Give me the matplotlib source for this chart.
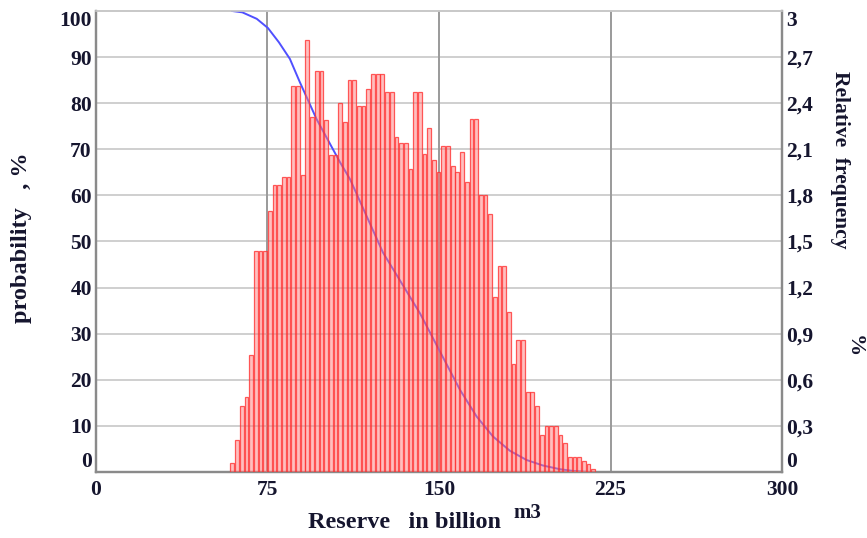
import matplotlib
matplotlib.use("Agg")
import matplotlib.pyplot as plt
import numpy as np

# ---------------- data ----------------
bin_start = 58.6          # left edge of first histogram class (billion m3)
bin_width = 2.05          # class width (billion m3)
rel_freq = [              # relative frequency, %
    0.06, 0.21, 0.43, 0.49, 0.76, 1.44, 1.44, 1.44, 1.70, 1.87,
    1.87, 1.92, 1.92, 2.51, 2.51, 1.93, 2.81, 2.31, 2.61, 2.61,
    2.29, 2.06, 2.06, 2.40, 2.28, 2.55, 2.55,
    2.38, 2.38, 2.49, 2.59, 2.59, 2.59, 2.47, 2.47, 2.18, 2.14,
    2.14, 1.97, 2.47, 2.47, 2.07, 2.24, 2.03, 1.95, 2.12, 2.12,
    1.99, 1.95, 2.08, 1.89, 2.30, 2.30,
    1.80, 1.80, 1.68, 1.14, 1.34, 1.34, 1.04, 0.70, 0.86, 0.86,
    0.52, 0.52, 0.43, 0.24, 0.30, 0.30, 0.30, 0.24, 0.19, 0.10,
    0.10, 0.10, 0.07, 0.05, 0.02,
]
prob_reserve = [59.5, 64.0, 70.3, 75.2, 80.0, 84.8, 89.2, 96.5, 106.7, 111.1,
                125.5, 141.7, 159.2, 166.5, 173.6, 181.0, 188.3, 195.5, 202.9,
                209.0, 215.5]
prob_values = [100, 99.7, 98.3, 96.3, 93.2, 89.6, 84.5, 76.5, 67.2, 63.5,
               47.6, 34.4, 17.8, 12.0, 7.7, 4.6, 2.6, 1.4, 0.6, 0.2, 0.0]

x_ticks = [0, 75, 150, 225, 300]
prob_ticks = [0, 10, 20, 30, 40, 50, 60, 70, 80, 90, 100]
freq_ticks = [0, 0.3, 0.6, 0.9, 1.2, 1.5, 1.8, 2.1, 2.4, 2.7, 3.0]
freq_tick_labels = ["0", "0,3", "0,6", "0,9", "1,2", "1,5", "1,8", "2,1",
                    "2,4", "2,7", "3"]

# ---------------- style ----------------
FONT = "Liberation Serif"
TXT = "#15152e"
plt.rcParams["font.family"] = [FONT, "DejaVu Serif"]
plt.rcParams["font.weight"] = "bold"

fig = plt.figure(figsize=(8.67, 5.38), dpi=100)
ax = fig.add_axes([0.1107, 0.1227, 0.7913, 0.8569])
ax2 = ax.twinx()

# probability curve (left axis)
ax.plot(prob_reserve, prob_values, color="#5050ff", lw=1.4, zorder=3)

# histogram (right axis)
centers = bin_start + bin_width * (np.arange(len(rel_freq)) + 0.5)
ax2.bar(centers, rel_freq, width=bin_width * 0.8,
        facecolor=(1.0, 0.5, 0.5, 0.5), edgecolor=(1.0, 0.2, 0.2, 0.8),
        linewidth=0.9, zorder=3)

# axes limits
ax.set_xlim(0, 300)
ax.set_ylim(0, 100)
ax2.set_ylim(0, 3)

# grid
for v in prob_ticks[1:-1]:
    ax.axhline(v, color="#cfcfcf", lw=1.4, zorder=1)
for v in x_ticks[1:-1]:
    ax.axvline(v, color="#9a9a9a", lw=1.4, zorder=1)

# spines
for a in (ax, ax2):
    for s in ("left", "right", "bottom"):
        a.spines[s].set_color("#8a8a8a")
        a.spines[s].set_linewidth(1.6)
    a.spines["top"].set_color("#c8c8c8")
    a.spines["top"].set_linewidth(1.2)

# ticks
ax.set_xticks(x_ticks)
ax.set_xticklabels([str(v) for v in x_ticks])
ax.set_yticks(prob_ticks)
ax.set_yticklabels([str(v) for v in prob_ticks])
ax2.set_yticks(freq_ticks)
ax2.set_yticklabels(freq_tick_labels)

ax.tick_params(axis="x", length=0, pad=6, labelsize=15.5, labelcolor=TXT)
ax.tick_params(axis="y", length=0, pad=3, labelsize=15.5, labelcolor=TXT)
ax2.tick_params(axis="y", length=0, pad=3, labelsize=15.5, labelcolor=TXT)
for lab in ax.get_xticklabels() + ax.get_yticklabels() + ax2.get_yticklabels():
    lab.set_fontweight("bold")
    lab.set_fontfamily(FONT)

ax.get_yticklabels()[0].set_va("bottom")
ax.get_yticklabels()[-1].set_va("top")
ax2.get_yticklabels()[0].set_va("bottom")
ax2.get_yticklabels()[-1].set_va("top")

# axis titles
fig.text(22 / 867, 1 - 238 / 538, "probability   , %", rotation=90,
         ha="center", va="center", fontsize=17.5, fontweight="bold",
         color=TXT, family=FONT)
fig.text(840 / 867, 1 - 160 / 538, "Relative  frequency", rotation=270,
         ha="center", va="center", fontsize=15.5, fontweight="bold",
         color=TXT, family=FONT)
fig.text(854 / 867, 1 - 346 / 538, "%", rotation=270,
         ha="center", va="center", fontsize=16, fontweight="bold",
         color=TXT, family=FONT)
fig.text(405 / 867, 1 - 522 / 538, "Reserve   in billion", ha="center",
         va="center", fontsize=17.5, fontweight="bold", color=TXT, family=FONT)
fig.text(527 / 867, 1 - 513 / 538, "m3", ha="center", va="center",
         fontsize=15, fontweight="bold", color=TXT, family=FONT)

fig.savefig("out.png", dpi=100)
